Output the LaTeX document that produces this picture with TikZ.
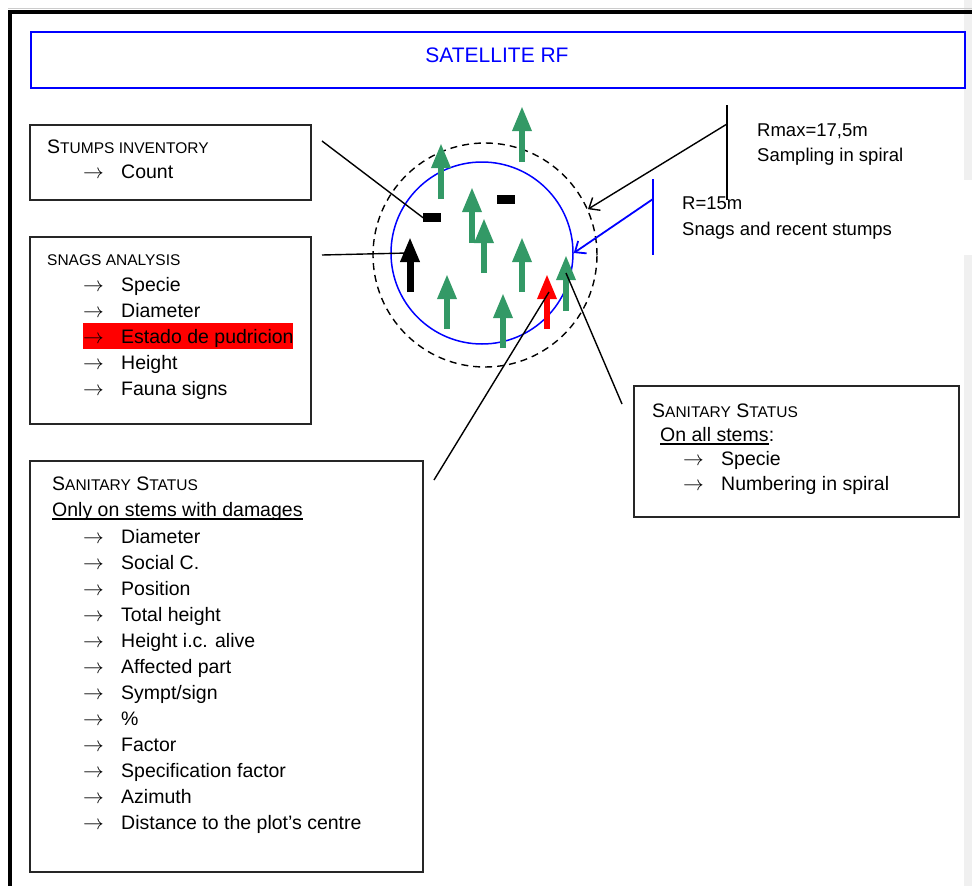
\documentclass[tikz,border=0pt]{standalone}
\usepackage{fontspec}
\setmainfont{Liberation Sans}
\usetikzlibrary{arrows.meta}
\definecolor{treegreen}{RGB}{51,153,102}
\definecolor{pagegray}{RGB}{240,240,240}
\newcommand{\fsc}[1]{{\fontsize{15.5}{18}\selectfont #1}}
\newcommand{\itemarrow}{$\rightarrow$}
\tikzset{
  box/.style={draw=black!85, line width=1.6pt, anchor=north west, inner sep=0pt},
  txt/.style={anchor=base west, inner sep=0pt, font=\fontsize{19.5}{24}\selectfont},
  lbl/.style={anchor=base west, inner sep=0pt, font=\fontsize{18.5}{22}\selectfont},
  tree/.style={line width=6pt, treegreen, -{Triangle[width=18pt,length=25pt]}},
  pointer/.style={line width=1.4pt},
  stump/.style={fill=black, inner sep=0pt, minimum width=18pt, minimum height=9pt},
}
\begin{document}
\begin{tikzpicture}[x=1pt,y=-1pt]
  \useasboundingbox (0,0) rectangle (972,886);
  % page
  \fill[pagegray] (964,0) rectangle (972,180);
  \fill[pagegray] (964,255) rectangle (972,886);
  \draw[gray!40, line width=0.8pt] (8,8) -- (972,8);
  \draw[line width=4pt] (10,886) -- (10,12) -- (972,12);

  % title
  \node[box, draw=blue, line width=1.8pt, minimum width=934pt, minimum height=56pt] (title) at (30,31) {};
  \node[text=blue, font=\fontsize{21}{24}\selectfont] (titletext) at (497,55) {SATELLITE RF};

  % boxes
  \node[box, minimum width=281pt, minimum height=75pt] (stumps) at (29,124) {};
  \node[box, minimum width=281pt, minimum height=187pt] (snags) at (29,236) {};
  \node[box, minimum width=325pt, minimum height=131pt] (allstems) at (633,385) {};
  \node[box, minimum width=393pt, minimum height=411pt] (damages) at (29,460) {};

  % stumps inventory
  \node[txt] (stumpshead) at (47,153) {S\fsc{TUMPS INVENTORY}};
  \node[txt] (stumpsarr) at (83,178) {\itemarrow};
  \node[txt] (count) at (121,178) {Count};

  % snags analysis
  \fill[red] (83,323) rectangle (293,349);
  \node[txt] (snagshead) at (47,265) {\fsc{SNAGS ANALYSIS}};
  \foreach \name [count=\i] in {Specie, Diameter, Estado de pudricion, Height, Fauna signs} {
    \node[txt] (snagarr-\i) at (83,{265+26*\i}) {\itemarrow};
    \node[txt] (snag-\i) at (121,{265+26*\i}) {\name};
  }

  % sanitary status, all stems
  \node[txt] (allhead) at (652,417) {S\fsc{ANITARY} S\fsc{TATUS}};
  \node[txt] (allsub) at (660,441) {On all stems};
  \node[txt] (allcolon) at (allsub.base east) {:};
  \draw[line width=1.2pt] ([yshift=-3pt]allsub.base west) -- ([yshift=-3pt]allsub.base east);
  \foreach \name [count=\i] in {Specie, Numbering in spiral} {
    \node[txt] (allarr-\i) at (683,{440+25*\i}) {\itemarrow};
    \node[txt] (all-\i) at (721,{440+25*\i}) {\name};
  }

  % sanitary status, damaged stems
  \node[txt] (dmghead) at (52,490) {S\fsc{ANITARY} S\fsc{TATUS}};
  \node[txt] (dmgsub) at (52,516) {Only on stems with damages};
  \draw[line width=1.2pt] ([yshift=-3pt]dmgsub.base west) -- ([yshift=-3pt]dmgsub.base east);
  \foreach \name [count=\i] in {Diameter, Social C., Position, Total height, Height i.c. alive,
      Affected part, Sympt/sign, \%, Factor, Specification factor, Azimuth,
      Distance to the plot’s centre} {
    \node[txt] (dmgarr-\i) at (83,{517+26*\i}) {\itemarrow};
    \node[txt] (dmg-\i) at (121,{517+26*\i}) {\name};
  }

  % plot
  \node[draw, circle, dashed, dash pattern=on 7pt off 5pt, line width=1.4pt, minimum size=224pt, inner sep=0pt] (outer) at (485,255) {};
  \node[draw=blue, circle, line width=1.5pt, minimum size=182pt, inner sep=0pt] (plot) at (482,253) {};

  \node[stump, anchor=north west] (s1) at (423,213) {};
  \node[stump, anchor=north west] (s2) at (497,195) {};

  \draw[tree] (522,162) -- (522,106);
  \draw[tree] (441,199) -- (441,143);
  \draw[tree] (472,243) -- (472,187);
  \draw[tree] (484,273) -- (484,218);
  \draw[tree] (522,292) -- (522,237);
  \draw[tree] (447,329) -- (447,274);
  \draw[tree] (503,348) -- (503,293);
  \draw[tree] (566,311) -- (566,255);
  \draw[tree, red] (547,329) -- (547,274);
  \draw[tree, black, line width=7pt] (410,292) -- (410,237);

  % radii
  \coordinate (rmaxtop) at (727,105);
  \coordinate (rmaxbot) at (727,200);
  \coordinate (rmaxpt) at (727,124);
  \draw[pointer] (rmaxtop) -- (rmaxbot);
  \draw[pointer, -{Straight Barb[length=9pt,width=15pt]}] (rmaxpt) -- (outer.24);
  \node[lbl] (rmax) at (757,136) {Rmax=17,5m};
  \node[lbl] (rmaxnote) at (757,161) {Sampling in spiral};

  \coordinate (rtop) at (653,179);
  \coordinate (rbot) at (653,255);
  \coordinate (rpt) at (653,199);
  \draw[blue, line width=1.8pt] (rtop) -- (rbot);
  \draw[blue, line width=1.8pt, -{Straight Barb[length=9pt,width=15pt]}] (rpt) -- (plot.east);
  \node[lbl] (r) at (682,209) {R=15m};
  \node[lbl] (rnote) at (682,235) {Snags and recent stumps};

  % pointers
  \coordinate (stumpsend) at (322,141);
  \coordinate (snagsend) at (322,255);
  \coordinate (snagpt) at (408,253);
  \coordinate (dmgend) at (434,480);
  \coordinate (redpt) at (549,292);
  \coordinate (allend) at (622,404);
  \coordinate (greenpt) at (566,273);
  \draw[pointer] (stumpsend) -- (s1.west);
  \draw[pointer] (snagsend) -- (snagpt);
  \draw[pointer] (dmgend) -- (redpt);
  \draw[pointer] (allend) -- (greenpt);
\end{tikzpicture}
\end{document}
